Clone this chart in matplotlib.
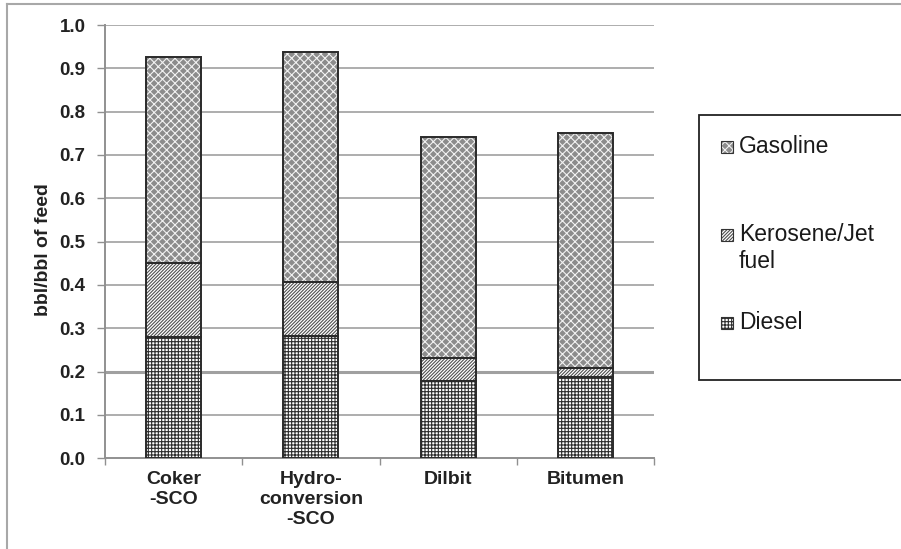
import matplotlib
matplotlib.use("Agg")
import matplotlib.pyplot as plt
from matplotlib.patches import Rectangle
from matplotlib.lines import Line2D
import numpy as np

plt.rcParams['font.family'] = ['Liberation Sans', 'DejaVu Sans']
plt.rcParams['hatch.linewidth'] = 0.8

# Product yields per barrel of feed
categories = ["Coker\n-SCO", "Hydro-\nconversion\n-SCO", "Dilbit", "Bitumen"]
diesel = [0.279, 0.282, 0.178, 0.188]
kerosene = [0.172, 0.126, 0.053, 0.020]
gasoline = [0.476, 0.529, 0.510, 0.543]
series_names = ["Gasoline", "Kerosene/Jet\nfuel", "Diesel"]
yticks = [0.0, 0.1, 0.2, 0.3, 0.4, 0.5, 0.6, 0.7, 0.8, 0.9, 1.0]

W, H = 901, 549
fig = plt.figure(figsize=(W / 100, H / 100), dpi=100)
ax = fig.add_axes([105 / W, 1 - 458.3 / H, (654 - 105) / W, (458.3 - 25) / H])

x = np.arange(len(categories))
width = 0.40

# fill styles: (face colour, hatch colour, hatch)
styles = {
    "Diesel": ("white", "#2e2e2e", "+++++"),
    "Kerosene": ("white", "#505050", "//////////"),
    "Gasoline": ("#8c8c8c", "#f2f2f2", "xxxx"),
}

layers = [("Diesel", diesel), ("Kerosene", kerosene), ("Gasoline", gasoline)]
bottom = np.zeros(len(categories))
for name, vals in layers:
    fc, hc, hatch = styles[name]
    ax.bar(x, vals, width, bottom=bottom, color=fc, edgecolor=hc,
           hatch=hatch, linewidth=0, zorder=3)
    ax.bar(x, vals, width, bottom=bottom, fill=False, edgecolor="#2a2a2a",
           linewidth=1.4, zorder=4)
    bottom = bottom + np.array(vals)

ax.set_xlim(-0.5, len(categories) - 0.5)
ax.set_ylim(0, 1.0)

# gridlines
for t in yticks[1:]:
    ax.axhline(t, color="#a0a0a0", linewidth=2.2 if abs(t - 0.2) < 1e-9 else 1.2, zorder=1)

ax.set_yticks(yticks)
ax.set_yticklabels([f"{t:.1f}" for t in yticks], fontsize=13.5, fontweight="bold", color="#222222")
ax.tick_params(axis="y", length=6, width=1, color="#909090", pad=8)

ax.set_xticks(x)
ax.set_xticklabels(categories, fontsize=14, fontweight="bold", color="#222222", linespacing=1.25)
ax.tick_params(axis="x", which="major", length=0, pad=9)
ax.set_xticks(np.arange(-0.5, len(categories)), minor=True)
ax.tick_params(axis="x", which="minor", length=5, width=1, color="#909090")

for side in ("top", "right"):
    ax.spines[side].set_visible(False)
for side in ("left", "bottom"):
    ax.spines[side].set_color("#909090")
    ax.spines[side].set_linewidth(1.4)

ax.set_ylabel("bbl/bbl of feed", fontsize=14, fontweight="bold", color="#222222")
ax.yaxis.label.set_va("center")
ax.yaxis.set_label_coords((43 - 105) / (654 - 105), (458.3 - 250) / 433.3)

# outer frame
fig.add_artist(Line2D([7 / W, 7 / W], [0, 1 - 4 / H], transform=fig.transFigure,
                      color="#a8a8a8", linewidth=1.5))
fig.add_artist(Line2D([7 / W, 1], [1 - 4 / H, 1 - 4 / H], transform=fig.transFigure,
                      color="#a8a8a8", linewidth=1.5))

# legend box
fig.add_artist(Rectangle((699 / W, 1 - 380 / H), (W + 10 - 699) / W, (380 - 115) / H,
                         transform=fig.transFigure, facecolor="white",
                         edgecolor="#222222", linewidth=1.3))
legend_rows = [("Gasoline", 147), ("Kerosene", 235), ("Diesel", 323)]
for (key, ypix), label in zip(legend_rows, series_names):
    fc, hc, hatch = styles[key]
    sz = 12
    fig.add_artist(Rectangle((721 / W, 1 - (ypix + sz / 2) / H), sz / W, sz / H,
                             transform=fig.transFigure, facecolor=fc, edgecolor=hc,
                             hatch=hatch, linewidth=0))
    fig.add_artist(Rectangle((721 / W, 1 - (ypix + sz / 2) / H), sz / W, sz / H,
                             transform=fig.transFigure, fill=False, edgecolor="#333333",
                             linewidth=0.8))
    fig.text(739 / W, 1 - (ypix - 12) / H, label, fontsize=16.5, color="#1a1a1a",
             ha="left", va="top", linespacing=1.2)

fig.savefig("out.png", dpi=100)
